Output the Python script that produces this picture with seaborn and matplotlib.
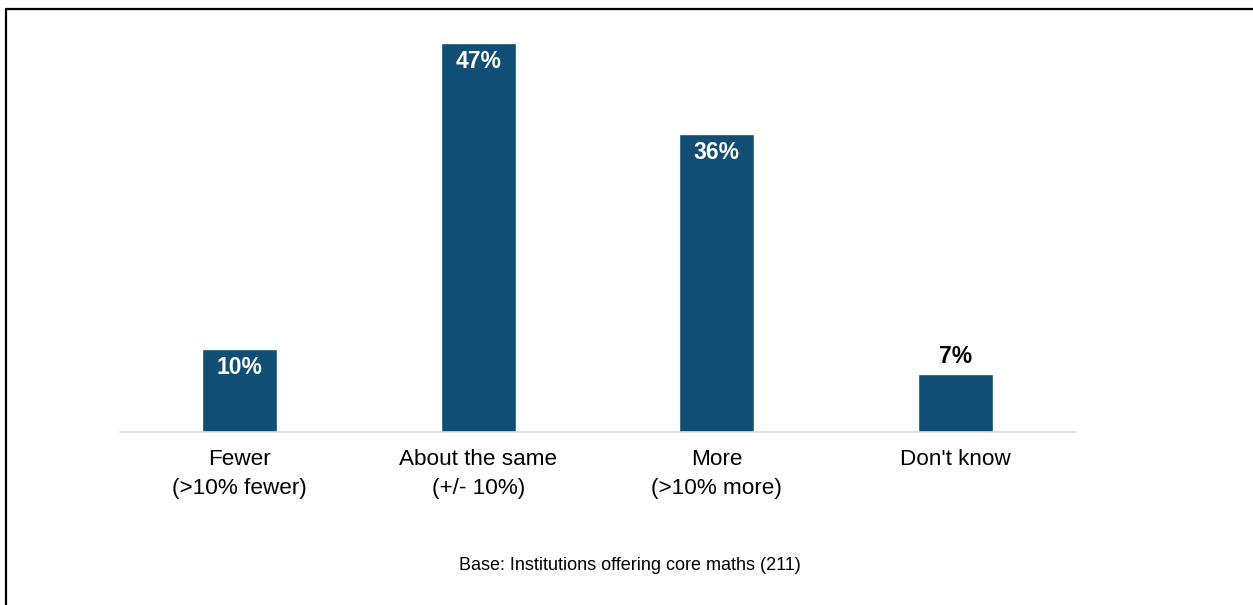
import matplotlib as mpl
import matplotlib.pyplot as plt
import seaborn as sns
import pandas as pd
from matplotlib.lines import Line2D

# data
categories = ["Fewer\n(>10% fewer)", "About the same\n(+/- 10%)",
              "More\n(>10% more)", "Don't know"]
shares = [0.10, 0.47, 0.36, 0.07]
base_note = "Base: Institutions offering core maths (211)"

BAR_COLOR = "#114e74"

sns.set_theme(style="white")
mpl.rcParams["font.family"] = ["Liberation Sans", "DejaVu Sans"]

df = pd.DataFrame({"category": categories, "share": shares})

fig = plt.figure(figsize=(12.53, 6.05), dpi=100)
ax = fig.add_axes([120 / 1253, (605 - 432) / 605, 955 / 1253, 414 / 605])

sns.barplot(data=df, x="category", y="share", color=BAR_COLOR,
            width=0.314, saturation=1, ax=ax)

ax.set_xlim(-0.5, 3.5)
ax.set_ylim(0, 0.5)
ax.set_xlabel("")
ax.set_ylabel("")
ax.set_yticks([])
sns.despine(ax=ax, left=True)
ax.spines["bottom"].set_color("#d9d9d9")
ax.spines["bottom"].set_linewidth(1.2)
ax.tick_params(axis="x", length=0, pad=12.5, labelsize=16.2, labelcolor="black")
for lab in ax.get_xticklabels():
    lab.set_linespacing(1.45)

# value labels: inside the bar top, except the short last one
for i, v in enumerate(shares):
    txt = f"{v * 100:.0f}%"
    if v >= 0.09:
        ax.annotate(txt, (i, v), xytext=(0, -5), textcoords="offset points",
                    ha="center", va="top", color="white",
                    fontsize=16.5, fontweight="bold")
    else:
        ax.annotate(txt, (i, v), xytext=(0, 4), textcoords="offset points",
                    ha="center", va="bottom", color="black",
                    fontsize=16.5, fontweight="bold")

fig.text(630 / 1253, 1 - 566 / 605, base_note, ha="center", va="center",
         fontsize=13, color="black")

# outer frame: only left and top edges are visible in the source
x0, y0 = 5.5 / 1253, 1 - 8.5 / 605
fig.add_artist(Line2D([x0, x0], [0, y0], transform=fig.transFigure,
                      color="black", linewidth=1.6))
fig.add_artist(Line2D([x0, 1], [y0, y0], transform=fig.transFigure,
                      color="black", linewidth=1.6))

fig.savefig("out.png", dpi=100)
